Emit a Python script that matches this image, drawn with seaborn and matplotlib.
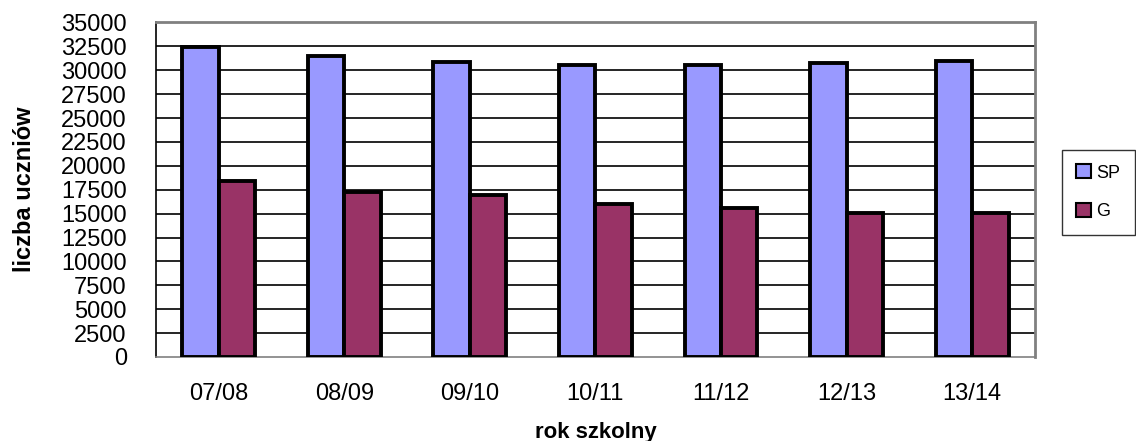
import pandas as pd
import numpy as np
import matplotlib
matplotlib.use("Agg")
import matplotlib.pyplot as plt
import seaborn as sns

# Data
years = ["07/08", "08/09", "09/10", "10/11", "11/12", "12/13", "13/14"]
sp_values = [32400, 31500, 30900, 30500, 30500, 30800, 31000]
g_values = [18400, 17300, 16900, 16000, 15600, 15100, 15100]
series_names = ["SP", "G"]
y_ticks = list(range(0, 35001, 2500))

df = pd.DataFrame({
    "rok": years * 2,
    "liczba": sp_values + g_values,
    "szkola": [series_names[0]] * len(years) + [series_names[1]] * len(years),
})

sns.set_style("white")
plt.rcParams["font.family"] = ["Liberation Sans", "DejaVu Sans"]
plt.rcParams["text.color"] = "black"
plt.rcParams["xtick.color"] = "black"
plt.rcParams["ytick.color"] = "black"
plt.rcParams["axes.labelcolor"] = "black"

fig = plt.figure(figsize=(11.36, 4.41), dpi=100)
ax = fig.add_axes([0.1373, 0.1905, 0.7737, 0.7585])

sns.barplot(data=df, x="rok", y="liczba", hue="szkola",
            palette=["#9999FF", "#993366"], width=0.58, gap=0,
            edgecolor="black", linewidth=2.8, saturation=1,
            errorbar=None, ax=ax, zorder=3)

ax.set_ylim(0, 35000)
ax.set_xlim(-0.5, len(years) - 0.5)
ax.set_yticks(y_ticks)
ax.set_yticklabels([str(v) for v in y_ticks], fontsize=17)
ax.tick_params(axis="y", direction="out", length=9, width=1, pad=12)
ax.tick_params(axis="x", which="major", length=0, labelsize=17, pad=19)
ax.set_xticks(np.arange(-0.5, len(years), 1), minor=True)
ax.tick_params(axis="x", which="minor", direction="out", length=8, width=1)

for v in y_ticks[1:-1]:
    ax.axhline(v, color="black", linewidth=1.2, zorder=1)

for side in ["top", "right", "bottom"]:
    ax.spines[side].set_color("#808080")
    ax.spines[side].set_linewidth(2 if side != "bottom" else 1.2)
ax.spines["left"].set_color("black")
ax.spines["left"].set_linewidth(1.2)

ax.set_ylabel("liczba uczniów", fontsize=17, fontweight="bold", labelpad=18)
ax.set_xlabel("rok szkolny", fontsize=16, fontweight="bold", labelpad=12)

ax.legend_.remove()
handles = [plt.Rectangle((0, 0), 1, 1, facecolor=c, edgecolor="black", linewidth=1.5)
           for c in ["#9999FF", "#993366"]]
leg = fig.legend(handles, series_names, loc="upper left",
                 bbox_to_anchor=(1062 / 1136, 1 - 150 / 441),
                 fontsize=13, frameon=True, fancybox=False,
                 handlelength=0.8, handleheight=0.8, handletextpad=0.3,
                 labelspacing=1.2, borderpad=0.8, borderaxespad=0)
leg.get_frame().set_edgecolor("black")
leg.get_frame().set_linewidth(1)

fig.savefig("out.png", dpi=100)
